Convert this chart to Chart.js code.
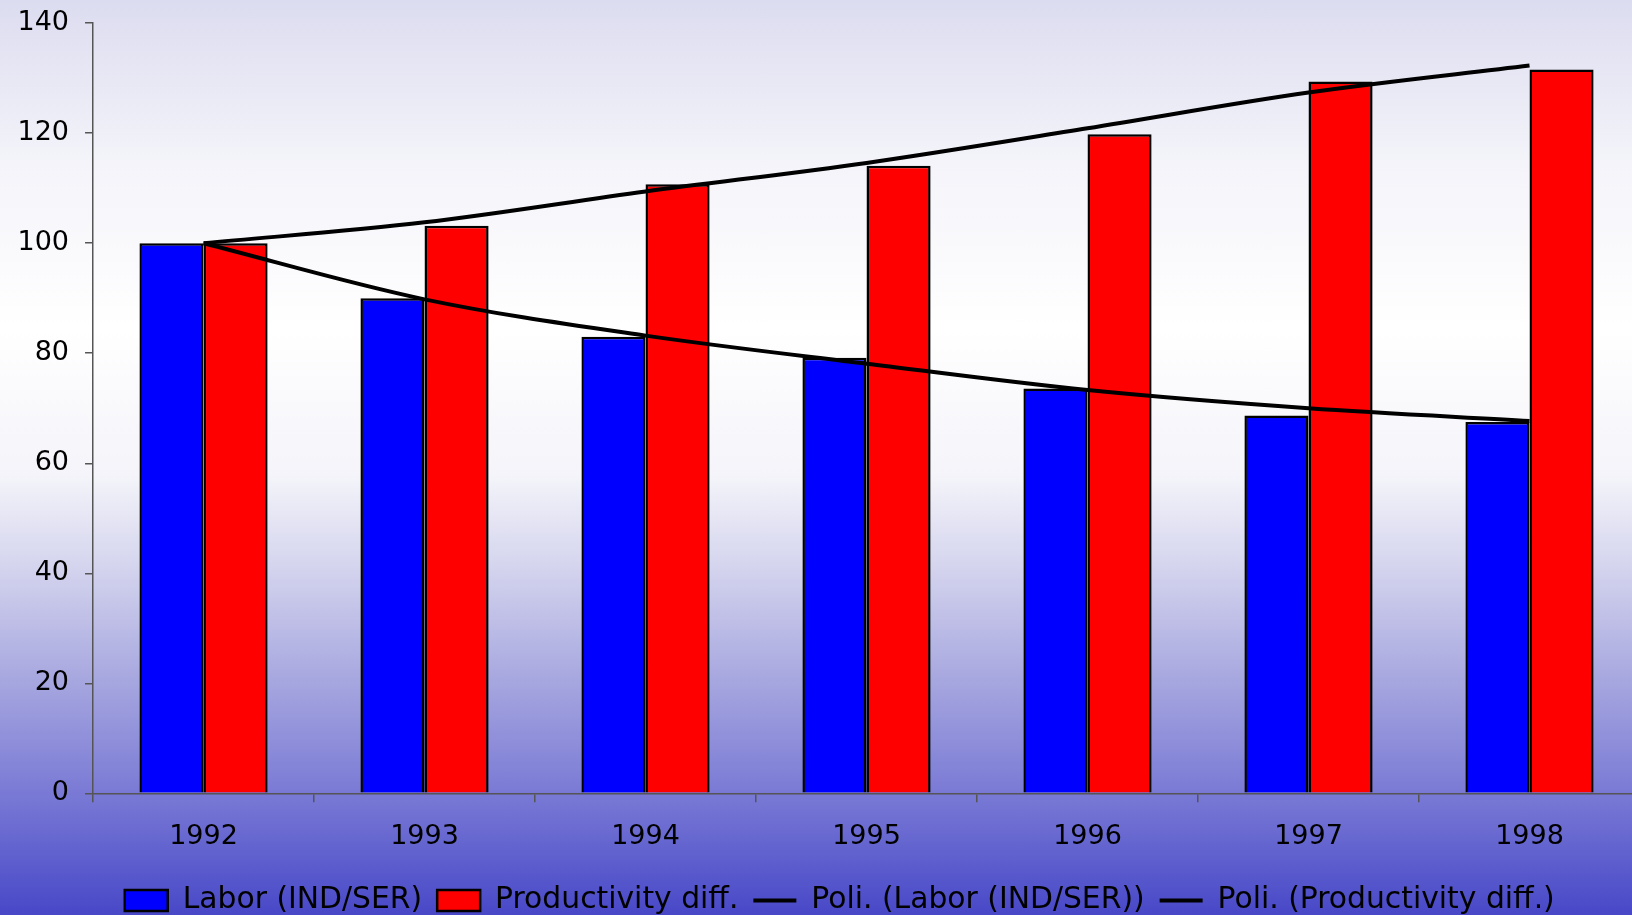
<!DOCTYPE html>
<html>
<head>
<meta charset="utf-8">
<title>Labor vs productivity</title>
<script src="https://cdn.jsdelivr.net/npm/chart.js@4"></script>
<style>
  html, body {
    margin: 0;
    padding: 0;
    width: 1632px;
    height: 915px;
    overflow: hidden;
    background: linear-gradient(to bottom,
      #dcdcf0 0%, #f4f4fa 18%, #ffffff 36%, #f4f4fa 52%,
      #d4d4ee 62%, #a8a8e0 74%, #7c7cd6 86%, #4848c8 100%);
  }
  #wrap {
    position: absolute;
    left: 0;
    top: -9px;
  }
</style>
</head>
<body>
<div id="wrap"><canvas id="chart" width="1678" height="924"></canvas></div>
<script>
const years = ['1992', '1993', '1994', '1995', '1996', '1997', '1998'];
const labor = [100, 90, 83, 79.2, 73.6, 68.7, 67.5];
const productivity = [100, 103.2, 110.7, 114.1, 119.8, 129.4, 131.6];
const laborTrend = [100, 89.8, 83.2, 78.1, 73.3, 70.0, 67.7];
const productivityTrend = [100, 103.8, 109.4, 114.6, 120.9, 127.4, 132.3];
const yTicks = [0, 20, 40, 60, 80, 100, 120, 140];

const font = 'DejaVu Sans, Verdana, sans-serif';

const ctx = document.getElementById('chart').getContext('2d');
const chart = new Chart(ctx, {
    type: 'bar',
    data: {
        labels: years,
        datasets: [{
            label: 'Labor (IND/SER)',
            data: labor,
            backgroundColor: '#0000ff',
            borderColor: '#000000',
            borderWidth: 2.5,
            pointStyle: 'rect',
            categoryPercentage: 0.58,
            barPercentage: 1.0,
            order: 2
        }, {
            label: 'Productivity diff.',
            data: productivity,
            backgroundColor: '#ff0000',
            borderColor: '#000000',
            borderWidth: 2.5,
            pointStyle: 'rect',
            categoryPercentage: 0.58,
            barPercentage: 1.0,
            order: 2
        }, {
            type: 'line',
            label: 'Poli. (Labor (IND/SER))',
            data: laborTrend,
            borderColor: '#000000',
            backgroundColor: '#000000',
            borderWidth: 4,
            pointRadius: 0,
            pointStyle: 'line',
            cubicInterpolationMode: 'monotone',
            fill: false,
            order: 1
        }, {
            type: 'line',
            label: 'Poli. (Productivity diff.)',
            data: productivityTrend,
            borderColor: '#000000',
            backgroundColor: '#000000',
            borderWidth: 4,
            pointRadius: 0,
            pointStyle: 'line',
            cubicInterpolationMode: 'monotone',
            fill: false,
            order: 1
        }]
    },
    options: {
        responsive: false,
        animation: false,
        layout: {
            padding: { left: 1.5, right: 0, top: 0, bottom: -10.5 }
        },
        plugins: {
            tooltip: { enabled: false },
            legend: {
                position: 'bottom',
                labels: {
                    color: '#000000',
                    font: { family: font, size: 29.8 },
                    usePointStyle: true,
                    pointStyleWidth: 43,
                    boxHeight: 21,
                    padding: 15,
                    sort: (a, b) => a.datasetIndex - b.datasetIndex
                }
            }
        },
        scales: {
            x: {
                offset: true,
                border: { color: '#555555', width: 1.5 },
                grid: {
                    drawOnChartArea: false,
                    offset: true,
                    tickLength: 9,
                    color: '#555555',
                    lineWidth: 1.5
                },
                ticks: {
                    color: '#000000',
                    font: { family: font, size: 27 },
                    padding: 18
                }
            },
            y: {
                min: 0,
                max: 140,
                afterBuildTicks: axis => {
                    axis.ticks = yTicks.map(v => ({ value: v }));
                },
                border: { color: '#555555', width: 1.5 },
                grid: {
                    drawOnChartArea: false,
                    tickLength: 8,
                    color: '#555555',
                    lineWidth: 1.5
                },
                ticks: {
                    color: '#000000',
                    font: { family: font, size: 27 },
                    padding: 16
                }
            },
            // empty right-hand gutter so the plot runs past the page edge
            gutter: {
                type: 'linear',
                position: 'right',
                grid: { display: false },
                border: { display: false },
                ticks: { display: false },
                afterFit: axis => { axis.width = 38; }
            }
        }
    }
});
</script>
</body>
</html>
